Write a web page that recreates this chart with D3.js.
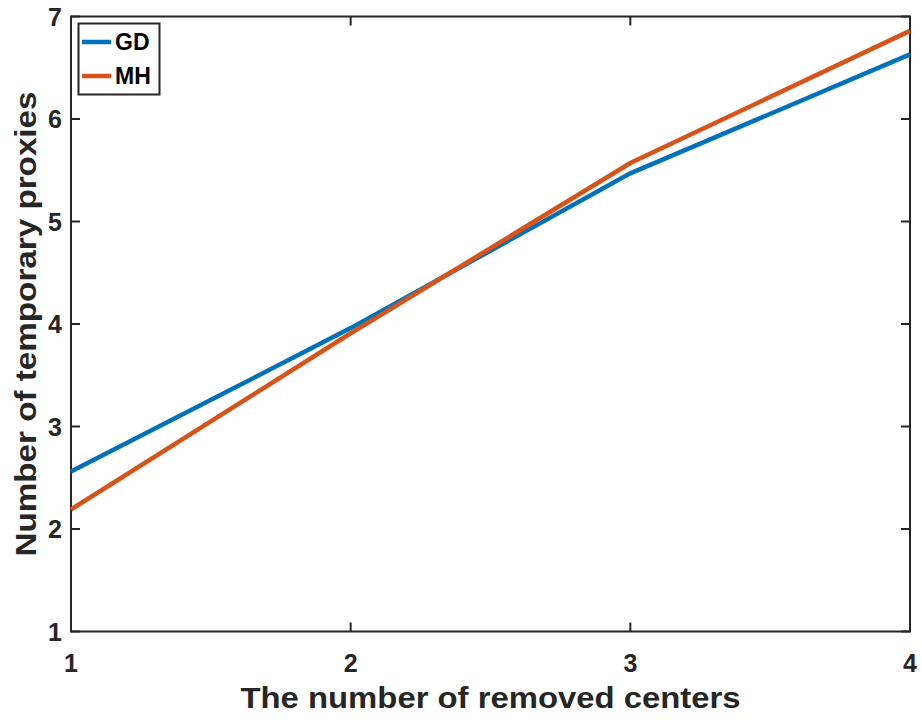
<!DOCTYPE html>
<html>
<head>
<meta charset="utf-8">
<style>
body { margin: 0; background: #fff; }
text { font-family: "Liberation Sans", Arial, sans-serif; font-weight: bold; fill: #262626; }
</style>
</head>
<body>
<svg width="922" height="720"></svg>
<script src="https://cdn.jsdelivr.net/npm/d3@7"></script>
<script>
var removed = [1, 2, 3, 4];
var gd = [2.56, 3.96, 5.47, 6.63];
var mh = [2.19, 3.91, 5.57, 6.86];
var series = [
  { name: "GD", values: gd, color: "#0072BD" },
  { name: "MH", values: mh, color: "#D95319" }
];
var xTicks = [1, 2, 3, 4];
var yTicks = [1, 2, 3, 4, 5, 6, 7];

var svg = d3.select("svg");
var pl = 71, pr = 910, pt = 16.5, pb = 631.5;

var x = d3.scaleLinear().domain([1, 4]).range([pl, pr]);
var y = d3.scaleLinear().domain([1, 7]).range([pb, pt]);

// box
svg.append("rect")
    .attr("x", pl).attr("y", pt)
    .attr("width", pr - pl).attr("height", pb - pt)
    .attr("fill", "none").attr("stroke", "#262626").attr("stroke-width", 2);

var tickLen = 9;
// y ticks (left and right, inward)
yTicks.forEach(function(t) {
  svg.append("line").attr("x1", pl).attr("x2", pl + tickLen)
    .attr("y1", y(t)).attr("y2", y(t)).attr("stroke", "#262626").attr("stroke-width", 2);
  svg.append("line").attr("x1", pr).attr("x2", pr - tickLen)
    .attr("y1", y(t)).attr("y2", y(t)).attr("stroke", "#262626").attr("stroke-width", 2);
  svg.append("text").attr("x", pl - 9).attr("y", y(t) + 9)
    .attr("text-anchor", "end").style("font-size", "25px").text(t);
});
xTicks.forEach(function(t) {
  svg.append("line").attr("x1", x(t)).attr("x2", x(t))
    .attr("y1", pb).attr("y2", pb - tickLen).attr("stroke", "#262626").attr("stroke-width", 2);
  svg.append("line").attr("x1", x(t)).attr("x2", x(t))
    .attr("y1", pt).attr("y2", pt + tickLen).attr("stroke", "#262626").attr("stroke-width", 2);
  svg.append("text").attr("x", x(t)).attr("y", pb + 40)
    .attr("text-anchor", "middle").style("font-size", "25px").text(t);
});

var line = d3.line()
    .x(function(d, i) { return x(removed[i]); })
    .y(function(d) { return y(d); });

series.forEach(function(s) {
  svg.append("path").datum(s.values)
    .attr("d", line)
    .attr("fill", "none")
    .attr("stroke", s.color)
    .attr("stroke-width", 4.5);
});

// axis titles
svg.append("text").attr("x", (pl + pr) / 2).attr("y", 708)
  .attr("text-anchor", "middle").style("font-size", "30px")
  .attr("textLength", 500).attr("lengthAdjust", "spacingAndGlyphs")
  .text("The number of removed centers");
svg.append("text")
  .attr("transform", "translate(36," + ((pt + pb) / 2) + ") rotate(-90)")
  .attr("text-anchor", "middle").style("font-size", "30px")
  .attr("textLength", 465).attr("lengthAdjust", "spacingAndGlyphs")
  .text("Number of temporary proxies");

// legend
var lg = svg.append("g");
lg.append("rect").attr("x", 78.5).attr("y", 23.5).attr("width", 81).attr("height", 71)
  .attr("fill", "#fff").attr("stroke", "#262626").attr("stroke-width", 2);
series.forEach(function(s, i) {
  var yy = 42 + i * 34;
  lg.append("line").attr("x1", 82).attr("x2", 111).attr("y1", yy).attr("y2", yy)
    .attr("stroke", s.color).attr("stroke-width", 4.5);
  lg.append("text").attr("x", 115).attr("y", yy + 8).style("font-size", "23px")
    .style("fill", "#000").text(s.name);
});
</script>
</body>
</html>
